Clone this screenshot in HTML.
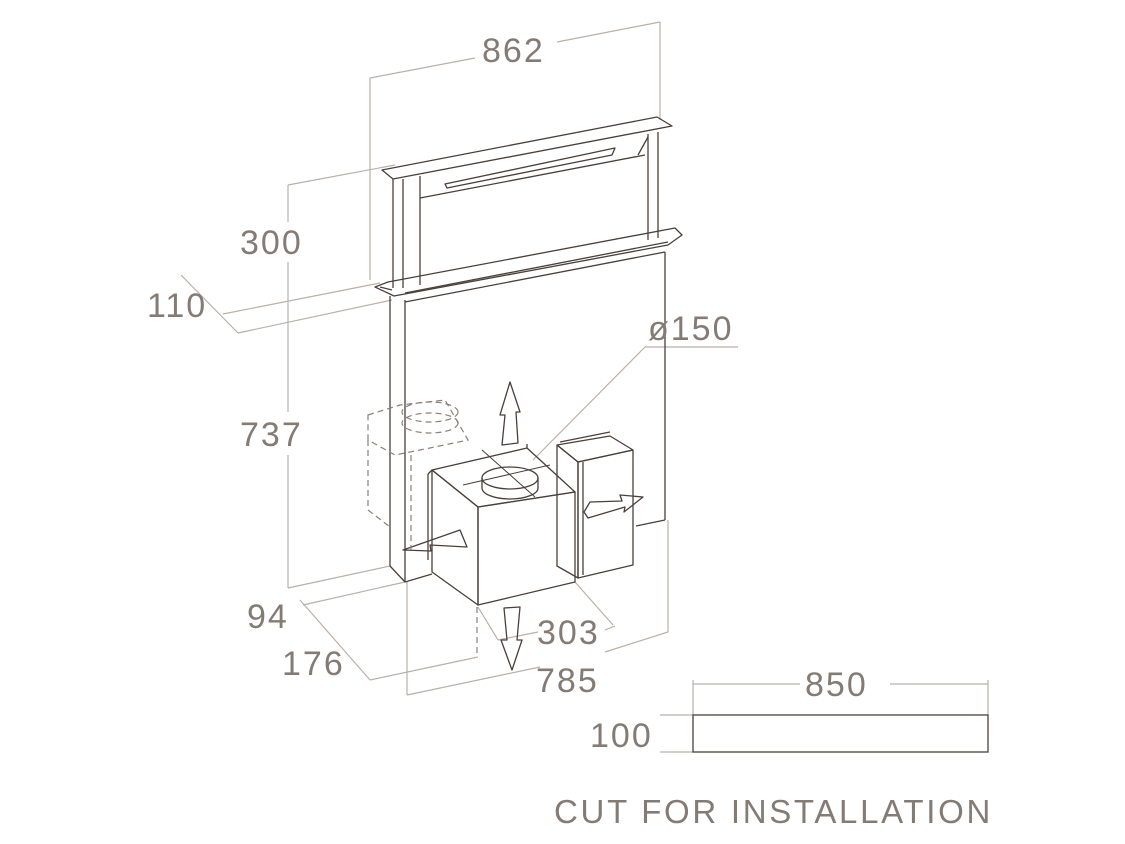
<!DOCTYPE html>
<html><head><meta charset="utf-8"><style>
html,body{margin:0;padding:0;background:#fff;}
svg{display:block}
text{font-family:"Liberation Sans",sans-serif;fill:#857b75;}
</style></head><body>
<svg width="1125" height="844" viewBox="0 0 1125 844" xmlns="http://www.w3.org/2000/svg">
<g fill="none" stroke="#b9b0a9" stroke-width="1.2">
 <line x1="370" y1="78" x2="370" y2="280"/>
 <line x1="660" y1="22" x2="660" y2="120"/>
 <line x1="370" y1="78" x2="475" y2="58"/>
 <line x1="557" y1="42" x2="660" y2="22"/>
 <line x1="288" y1="185" x2="288" y2="222"/>
 <line x1="288" y1="262" x2="288" y2="412"/>
 <line x1="288" y1="455" x2="288" y2="588"/>
 <line x1="288" y1="185" x2="395" y2="165"/>
 <line x1="181" y1="275" x2="238" y2="333"/>
 <line x1="223" y1="314" x2="380" y2="283"/>
 <line x1="238" y1="333" x2="392" y2="300"/>
 <line x1="288" y1="588" x2="390" y2="566"/>
 <line x1="303" y1="605" x2="405" y2="582"/>
 <line x1="300" y1="600" x2="370" y2="680"/>
 <line x1="370" y1="680" x2="478" y2="657"/>
 <line x1="407" y1="582" x2="407" y2="695"/>
 <line x1="668" y1="520" x2="668" y2="632"/>
 <line x1="407" y1="695" x2="540" y2="667"/>
 <line x1="605" y1="652" x2="668" y2="632"/>
 <line x1="575" y1="582" x2="613" y2="625"/>
 <line x1="478" y1="607" x2="498" y2="640"/>
 <line x1="498" y1="640" x2="538" y2="632"/>
 <line x1="605" y1="630" x2="615" y2="626"/>
 <line x1="533" y1="460" x2="645" y2="347"/>
 <line x1="645" y1="347" x2="738" y2="347"/>
 <line x1="693" y1="680" x2="693" y2="715"/>
 <line x1="988" y1="680" x2="988" y2="715"/>
 <line x1="693" y1="684" x2="800" y2="684"/>
 <line x1="890" y1="684" x2="988" y2="684"/>
 <line x1="660" y1="715" x2="693" y2="715"/>
 <line x1="660" y1="752" x2="693" y2="752"/>
</g>
<g fill="none" stroke="#4a403b" stroke-width="1.3" stroke-linejoin="round">
 <polygon points="382,170 657,117 672,126 393,179"/>
 <line x1="393" y1="179" x2="393" y2="288"/>
 <line x1="403" y1="179" x2="403" y2="288"/>
 <line x1="420" y1="176" x2="420" y2="285"/>
 <line x1="648" y1="134" x2="648" y2="240"/>
 <line x1="658" y1="132" x2="658" y2="238"/>
 <line x1="420" y1="198" x2="645" y2="155"/>
 <polygon points="445,184 615,148 612,155 447,188"/>
 <line x1="638" y1="155" x2="648" y2="137"/>
 <polygon points="375,287 388,282 675,228 682,235 668,245 394,296"/>
 <line x1="380" y1="287" x2="392" y2="290"/>
 <line x1="405" y1="293" x2="668" y2="242"/>
 <line x1="405" y1="302" x2="665" y2="252"/>
 <line x1="390" y1="296" x2="390" y2="566"/>
 <line x1="405" y1="300" x2="405" y2="582"/>
 <line x1="665" y1="252" x2="665" y2="520"/>
 <line x1="390" y1="566" x2="405" y2="582"/>
 <line x1="405" y1="582" x2="432" y2="574"/>
 <line x1="636" y1="526" x2="665" y2="520"/>
 <polygon points="432,470 478,507 575,492 527,448"/>
 <polygon points="432,470 478,507 478,605 432,572"/>
 <polygon points="478,507 575,492 575,582 478,605"/>
 <line x1="432" y1="470" x2="428" y2="474"/><line x1="428" y1="474" x2="428" y2="560"/>
 <line x1="527" y1="448" x2="527" y2="444"/>
 <ellipse cx="510" cy="478" rx="28" ry="11"/>
 <path d="M482 478 v10 a28 11 0 0 0 56 0 v-10"/>
 <line x1="463" y1="485" x2="550" y2="465" stroke-width="1"/>
 <line x1="482" y1="450" x2="535" y2="497" stroke-width="1"/>
 <polygon points="557,445 610,436 633,450 578,462"/>
 <line x1="560" y1="442" x2="610" y2="432"/>
 <polygon points="578,462 633,450 633,565 578,578"/>
 <polygon points="557,445 578,462 578,578 557,566"/>
 <line x1="583" y1="462" x2="583" y2="575"/>
 <polygon points="510,382 520,412 516,412 518,443 502,445 505,415 500,415"/>
 <polygon points="512,670 522,640 517,640 520,607 504,608 507,640 501,640"/>
 <polygon points="403,550 460,530 467,547 430,545 431,551"/>
 <polygon points="643,497 620,495 622,501 590,502 584,512 588,518 625,507 624,512"/>
</g>
<g fill="none" stroke="#8a807a" stroke-width="1.2" stroke-dasharray="6,4">
 <polygon points="368,415 400,405 445,400 468,440 430,448 395,455 368,440"/>
 <ellipse cx="430" cy="412" rx="28" ry="10"/>
 <ellipse cx="430" cy="423" rx="28" ry="10"/>
 <line x1="368" y1="440" x2="368" y2="510"/>
 <line x1="368" y1="510" x2="390" y2="527"/>
 <line x1="411" y1="455" x2="411" y2="550"/>
 <line x1="477" y1="607" x2="477" y2="657"/>
</g>
<rect x="693" y="715" width="295" height="37" fill="none" stroke="#4a403b" stroke-width="1.3"/>
<g font-size="34" letter-spacing="2">
 <text x="482" y="62">862</text>
 <text x="240" y="254">300</text>
 <text x="147" y="317">110</text>
 <text x="240" y="446">737</text>
 <text x="247" y="628">94</text>
 <text x="282" y="675">176</text>
 <text x="537" y="644">303</text>
 <text x="536" y="692">785</text>
 <text x="648" y="340">ø150</text>
 <text x="805" y="696">850</text>
 <text x="590" y="747">100</text>
 <text x="554" y="823" font-size="33" letter-spacing="2.7">CUT FOR INSTALLATION</text>
</g>
</svg>
</body></html>
